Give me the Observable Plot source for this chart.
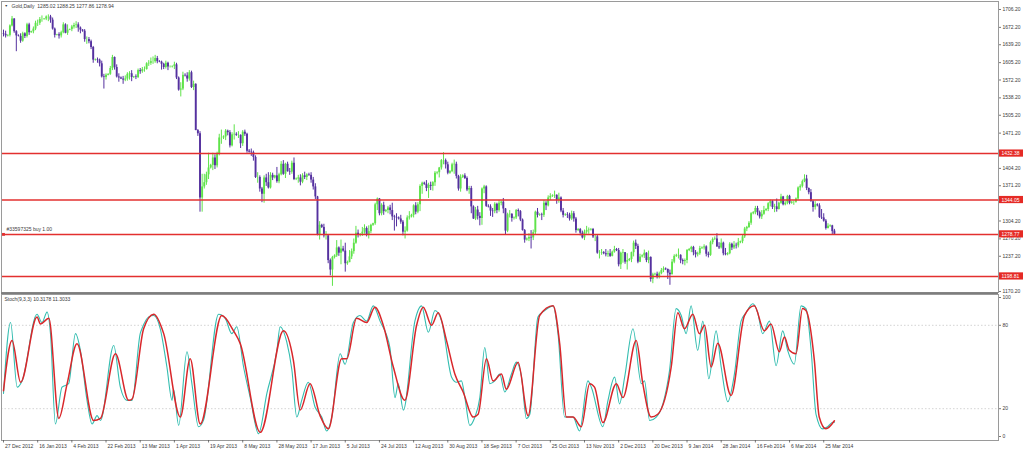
<!DOCTYPE html>
<html><head><meta charset="utf-8">
<script src="https://cdn.jsdelivr.net/npm/d3@7"></script>
<script src="https://cdn.jsdelivr.net/npm/@observablehq/plot@0.6"></script>
<style>
body{margin:0;background:#fff;}
#wrap{position:relative;width:1024px;height:451px;overflow:hidden;background:#fff;}
#wrap svg{position:absolute;left:0;overflow:visible;}
</style>
</head><body><div id="wrap"></div>
<script>
// ---------- DATA ----------
const header = "Gold,Daily  1285.02 1288.25 1277.86 1278.94";
const stochHeader = "Stoch(9,3,3) 10.3178 11.3033";
const orderText = "#33597325 buy 1.00";

const opens = [1660,1659,1656,1657,1675,1688,1664,1656,1655,1646,1660,1655,1677,1662,1664,1669,1680,1680,1687,1687,1688,1692,1692,1686,1669,1657,1658,1656,1662,1677,1661,1667,1668,1673,1676,1677,1671,1667,1665,1649,1649,1645,1634,1610,1611,1610,1603,1578,1577,1581,1583,1594,1615,1596,1578,1576,1574,1572,1574,1583,1584,1577,1578,1577,1590,1588,1592,1592,1603,1604,1607,1607,1613,1607,1606,1602,1596,1604,1597,1597,1598,1601,1576,1553,1555,1581,1580,1574,1586,1558,1564,1476,1470,1348,1369,1377,1392,1405,1410,1424,1409,1431,1462,1462,1464,1475,1472,1447,1468,1469,1467,1467,1451,1473,1469,1437,1435,1434,1425,1387,1387,1365,1355,1386,1377,1367,1391,1386,1390,1379,1392,1412,1393,1412,1398,1397,1414,1383,1384,1386,1378,1390,1387,1392,1391,1382,1369,1350,1278,1296,1292,1276,1276,1229,1211,1235,1238,1253,1243,1251,1247,1223,1225,1236,1246,1262,1281,1277,1279,1283,1290,1277,1284,1296,1299,1335,1346,1318,1334,1322,1324,1329,1324,1312,1311,1310,1308,1302,1283,1285,1310,1312,1315,1333,1321,1335,1370,1376,1374,1366,1372,1370,1377,1395,1396,1405,1419,1419,1411,1395,1398,1411,1412,1389,1365,1387,1390,1385,1363,1366,1331,1308,1325,1313,1309,1365,1369,1332,1331,1323,1322,1336,1324,1338,1340,1327,1285,1316,1317,1309,1310,1324,1322,1306,1286,1268,1270,1273,1272,1282,1321,1315,1316,1315,1338,1333,1348,1351,1352,1353,1344,1348,1323,1315,1316,1315,1308,1318,1308,1286,1288,1281,1272,1283,1286,1287,1288,1274,1274,1243,1243,1244,1242,1240,1242,1237,1245,1250,1248,1221,1243,1244,1226,1229,1231,1244,1262,1256,1226,1236,1238,1243,1229,1235,1193,1202,1203,1197,1204,1210,1213,1212,1205,1202,1226,1237,1239,1239,1229,1227,1229,1248,1250,1254,1244,1240,1242,1252,1253,1255,1241,1239,1263,1269,1270,1255,1253,1262,1242,1240,1242,1260,1253,1258,1257,1263,1265,1274,1289,1292,1300,1318,1320,1328,1320,1312,1317,1324,1326,1337,1341,1330,1331,1326,1338,1350,1335,1338,1351,1338,1340,1340,1346,1367,1370,1379,1384,1366,1358,1341,1330,1335,1333,1311,1310,1304,1290,1294,1295,1285.02];
const highs = [1667,1665,1658,1677,1693,1689,1666,1658,1660,1663,1662,1680,1680,1665,1673,1684,1686,1691,1694,1689,1694,1696,1695,1690,1671,1659,1662,1665,1681,1679,1677,1669,1676,1680,1683,1681,1673,1668,1668,1654,1653,1648,1636,1612,1614,1612,1608,1583,1584,1584,1598,1619,1616,1601,1584,1578,1579,1580,1586,1588,1590,1579,1582,1593,1594,1596,1597,1605,1609,1614,1616,1619,1617,1609,1608,1604,1608,1606,1599,1599,1606,1604,1578,1567,1587,1584,1586,1590,1589,1570,1565,1478,1474,1393,1393,1397,1433,1412,1433,1430,1435,1469,1477,1466,1478,1477,1476,1472,1487,1472,1474,1468,1476,1477,1471,1440,1441,1437,1428,1396,1390,1368,1390,1393,1396,1396,1395,1391,1406,1395,1417,1419,1414,1416,1404,1418,1424,1386,1391,1392,1394,1397,1394,1395,1396,1387,1375,1351,1303,1298,1298,1284,1278,1232,1237,1240,1267,1255,1268,1256,1262,1228,1248,1251,1270,1294,1287,1280,1292,1297,1293,1295,1298,1300,1338,1348,1347,1337,1340,1326,1332,1334,1338,1315,1318,1312,1315,1305,1293,1314,1322,1317,1335,1339,1339,1373,1378,1378,1381,1376,1378,1379,1398,1398,1406,1421,1434,1422,1416,1400,1414,1420,1416,1391,1392,1392,1394,1388,1370,1370,1333,1330,1332,1320,1367,1372,1371,1335,1335,1328,1339,1338,1343,1342,1347,1328,1319,1324,1318,1312,1326,1327,1324,1308,1288,1272,1280,1286,1287,1323,1328,1318,1319,1343,1341,1352,1356,1354,1361,1354,1357,1350,1328,1318,1320,1319,1323,1322,1311,1290,1290,1285,1287,1294,1291,1290,1290,1278,1277,1248,1250,1246,1250,1247,1250,1247,1256,1252,1252,1245,1250,1244,1242,1233,1245,1266,1268,1260,1241,1240,1249,1244,1247,1236,1205,1205,1207,1207,1214,1217,1215,1213,1211,1231,1240,1241,1251,1240,1232,1232,1250,1252,1256,1256,1248,1245,1256,1255,1259,1257,1245,1266,1272,1274,1280,1263,1270,1264,1252,1244,1263,1262,1265,1262,1271,1266,1277,1292,1294,1303,1320,1322,1332,1332,1323,1324,1332,1328,1339,1344,1343,1336,1346,1340,1355,1351,1341,1353,1353,1341,1342,1348,1369,1373,1382,1392,1391,1367,1364,1343,1341,1337,1337,1326,1318,1307,1299,1297,1296,1288.25];
const lows = [1654,1652,1654,1654,1673,1661,1626,1654,1642,1644,1651,1652,1657,1661,1660,1666,1674,1676,1682,1686,1685,1683,1680,1667,1652,1656,1650,1652,1660,1660,1657,1666,1664,1669,1670,1663,1660,1663,1644,1640,1641,1630,1604,1608,1604,1597,1576,1555,1572,1580,1581,1590,1591,1576,1568,1573,1564,1569,1570,1572,1569,1575,1573,1575,1583,1585,1587,1591,1598,1600,1602,1604,1603,1605,1591,1592,1593,1590,1595,1595,1592,1573,1551,1540,1552,1578,1568,1570,1556,1552,1476,1465,1321,1321,1365,1372,1383,1403,1400,1402,1405,1428,1450,1459,1457,1466,1443,1445,1458,1465,1461,1442,1446,1465,1433,1433,1427,1418,1385,1376,1359,1339,1338,1370,1365,1365,1381,1384,1376,1375,1390,1391,1385,1397,1391,1393,1381,1381,1376,1371,1375,1383,1381,1389,1376,1363,1345,1276,1268,1290,1272,1268,1223,1200,1180,1232,1235,1237,1221,1245,1207,1220,1225,1231,1241,1260,1272,1274,1275,1279,1274,1270,1280,1294,1296,1324,1314,1314,1315,1320,1318,1316,1305,1285,1293,1306,1298,1276,1270,1283,1306,1310,1310,1316,1318,1322,1355,1372,1360,1347,1362,1361,1370,1392,1386,1401,1411,1403,1392,1393,1396,1393,1384,1361,1359,1385,1383,1360,1355,1318,1307,1305,1306,1295,1296,1356,1330,1329,1313,1311,1318,1318,1321,1333,1318,1277,1282,1310,1302,1306,1307,1312,1303,1285,1262,1266,1265,1251,1267,1278,1310,1313,1305,1311,1324,1331,1343,1349,1347,1336,1338,1320,1310,1313,1309,1304,1305,1302,1281,1284,1276,1270,1267,1279,1279,1285,1271,1265,1241,1232,1239,1240,1236,1235,1235,1236,1243,1246,1217,1212,1224,1222,1211,1227,1225,1236,1250,1223,1225,1234,1233,1225,1223,1188,1185,1200,1194,1194,1202,1206,1210,1193,1182,1202,1223,1235,1232,1223,1221,1219,1223,1246,1244,1238,1234,1236,1239,1250,1249,1236,1234,1237,1259,1267,1254,1250,1251,1238,1238,1238,1240,1248,1250,1251,1253,1261,1261,1271,1284,1290,1296,1316,1316,1314,1308,1307,1315,1322,1322,1331,1326,1320,1321,1325,1336,1333,1333,1335,1335,1336,1334,1338,1344,1361,1367,1377,1362,1354,1340,1321,1325,1331,1309,1307,1302,1287,1289,1292,1277,1277.86];
const closes = [1659,1656,1657,1675,1688,1664,1656,1655,1646,1660,1655,1677,1662,1664,1669,1680,1680,1687,1687,1688,1692,1692,1686,1669,1657,1658,1656,1662,1677,1661,1667,1668,1673,1676,1677,1671,1667,1665,1649,1649,1645,1634,1610,1611,1610,1603,1578,1577,1581,1583,1594,1615,1596,1578,1576,1574,1572,1574,1583,1584,1577,1578,1577,1590,1588,1592,1592,1603,1604,1607,1607,1613,1607,1606,1602,1596,1604,1597,1597,1598,1601,1576,1553,1555,1581,1580,1574,1586,1558,1564,1476,1470,1348,1369,1377,1392,1405,1410,1424,1409,1431,1462,1462,1464,1475,1472,1447,1468,1469,1467,1467,1451,1473,1469,1437,1435,1434,1425,1387,1387,1365,1355,1386,1377,1367,1391,1386,1390,1379,1392,1412,1393,1412,1398,1397,1414,1383,1384,1386,1378,1390,1387,1392,1391,1382,1369,1350,1278,1296,1292,1276,1276,1229,1211,1235,1238,1253,1243,1251,1247,1223,1225,1236,1246,1262,1281,1277,1279,1283,1290,1277,1284,1296,1299,1335,1346,1318,1334,1322,1324,1329,1324,1312,1311,1310,1308,1302,1283,1285,1310,1312,1315,1333,1321,1335,1370,1376,1374,1366,1372,1370,1377,1395,1396,1405,1419,1419,1411,1395,1398,1411,1412,1389,1365,1387,1390,1385,1363,1366,1331,1308,1325,1313,1309,1365,1369,1332,1331,1323,1322,1336,1324,1338,1340,1327,1285,1316,1317,1309,1310,1324,1322,1306,1286,1268,1270,1273,1272,1282,1321,1315,1316,1315,1338,1333,1348,1351,1352,1353,1344,1348,1323,1315,1316,1315,1308,1318,1308,1286,1288,1281,1272,1283,1286,1287,1288,1274,1274,1243,1243,1244,1242,1240,1242,1237,1245,1250,1248,1221,1243,1244,1226,1229,1231,1244,1262,1256,1226,1236,1238,1243,1229,1235,1193,1202,1203,1197,1204,1210,1213,1212,1205,1202,1226,1237,1239,1239,1229,1227,1229,1248,1250,1254,1244,1240,1242,1252,1253,1255,1241,1239,1263,1269,1270,1255,1253,1262,1242,1240,1242,1260,1253,1258,1257,1263,1265,1274,1289,1292,1300,1318,1320,1328,1320,1312,1317,1324,1326,1337,1341,1330,1331,1326,1338,1350,1335,1338,1351,1338,1340,1340,1346,1367,1370,1379,1384,1366,1358,1341,1330,1335,1333,1311,1310,1304,1290,1294,1295,1284,1278.94];

// horizontal price levels (red lines) and right-axis tick labels
const levels = [1432.38, 1344.05, 1278.77, 1198.81];
const orderLevel = 1278.77;
// right-axis ticks visible beside the red level boxes (1438.20, 1337.20, 1203.20 sit under the boxes)
const priceTicks = [1706.20,1672.20,1639.20,1605.20,1572.20,1538.20,1505.20,1471.20,1404.20,1371.20,1304.20,1270.20,1237.20,1170.20];

// stochastic main line (%K) and signal (%D): bar position, value
const kBar = [0,3.3,6.4,8.7,15.7,18,20.4,22,24.3,27.4,30.5,33.7,36,39.1,41.5,43.8,45.4,51.6,54.7,57.8,60.2,64,64.8,68,70.3,73.4,76.5,78.9,79.6,82,85.9,88.2,91.3,93.7,100.7,103.8,106.9,109.2,112.4,115.5,119.4,123.3,128,129.5,132.6,135,137.3,139.6,142.7,145.9,149,151.3,153.7,157.6,159.9,163.8,166.9,170,173.1,176.3,180.9,183.3,184.8,187.2,192.6,195.7,198.9,202,205.1,209.8,212.1,214.4,216,218.3,220.7,223,225.3,227.7,230,232.3,234.7,237.8,240.1,242.5,244.8,246.4,250.2,253.4,257.3,259.6,262.7,266.6,269.7,273.6,275.2,280.6,283,286.1,288.4,290.8,294.7,298.6,300.1,302.5,305.6,308.7,311.8,314.9,317.3,319.6,321.9,325,327.4,330.2,333.6,336,339.1,342.2,345.3,347.6,350.8,353.1,355.4,358.6,361.7,364.8,367.1,370.2,373.4,375.7,378.1,380.4,383.5,385.8,388.2,389];
const kVal = [31,82,35.5,40,88,82,89.5,74,9,35.5,38,74,62,26,9,15,11.5,65.5,35.5,26,26,74,77.5,86,87,77.5,50,26,34,8,61,38,7,12,88,85,74,79,50,28,2,31,62,79,68,48,14,26,39,21,14,4,14,59.5,52,82,87,83,94,83,64,28,38,19,83,94,75,90.6,83,42.7,39,40,28,8,14,28,64,38,40,45,32,45,53.5,43,13,16,86,90.6,94,74,14,14,4,40,35.5,7,26,42.7,23.5,42.7,77.5,38,40,11.5,14,23.5,47.5,92,87,74,94,62,83,41.5,76,50,25,45,83,89,95.5,89,74,83,51,76,62,52,94,92,62,16,5.5,7,10.3,10.32];
const dBar = [0,4,8,15.7,17.3,21.2,25.9,29.8,34.4,42.2,45.4,52.4,58.6,60.2,65.6,70.3,75,82.8,87.4,92.1,102.2,107.7,110.8,120.2,131.1,135.7,138.9,143.5,148.2,152.1,158.3,160.7,165.3,170,173.9,177.8,182.5,187.9,193.4,196.5,200.4,203.5,207.4,211.3,215.2,219.9,222.2,226.1,229.2,233.1,235.4,240.9,245.6,251,257.3,260.4,263.5,266.6,270.5,274.4,276.7,280.6,286.9,290,296.2,299.3,303.2,306.3,312.6,315.7,318.8,322.7,325.8,328.2,331.3,334.4,340.6,346.9,351.5,356.2,359.3,363.2,365.6,367.9,371,374.1,375.7,379.6,381.9,385,389];
const dVal = [33,69,39,86,81,85,13,38,66.7,11.5,13,59.5,26,27,77.5,88,74,14,56,9,87,76,67,3,76,55,19,38,15,5.5,56,56,85,82,93,80,50,26,80,93,80,89,69,45,32,14,16,56,40,45,34,53.5,15,87,94,66.7,14,14,7,38,35.5,10,38,28,69,38,14,16,50,89,77.5,88,74,80,50,67,29.5,87,94,76,81,61,71.5,62,59.5,92,90.6,55,14,5.5,11.3];
const stochLevels = [80, 20];
const stochTicks = [100, 80, 20, 0];

// date labels along the bottom (one every 16 bars)
const dateLabels = ["27 Dec 2012","16 Jan 2013","4 Feb 2013","22 Feb 2013","13 Mar 2013","1 Apr 2013","19 Apr 2013","8 May 2013","28 May 2013","17 Jun 2013","5 Jul 2013","24 Jul 2013","12 Aug 2013","30 Aug 2013","18 Sep 2013","7 Oct 2013","25 Oct 2013","13 Nov 2013","2 Dec 2013","20 Dec 2013","9 Jan 2014","28 Jan 2014","16 Feb 2014","6 Mar 2014","25 Mar 2014"];
const barsPerLabel = 16;

// ---------- checks ----------
const lens = [opens.length, highs.length, lows.length, closes.length];
if (new Set(lens).size > 1) throw new Error("OHLC length mismatch " + lens.join(","));
if (kBar.length !== kVal.length) throw new Error("K mismatch " + kBar.length + " " + kVal.length);
if (dBar.length !== dVal.length) throw new Error("D mismatch " + dBar.length + " " + dVal.length);

// ---------- LAYOUT ----------
const W = 1024;
const PX = 2.136;          // pixels per bar
const X0 = 3;              // pixel of first bar
const plotL = 1, plotR = 998;
const xDom = [(plotL - X0) / PX, (plotR - X0) / PX];
const px2bar = p => (p - X0) / PX;
const PPU = 1.9007;        // price units per pixel (main)
const priceAt = y => 1723.3 - PPU * y;
const mainH = 293;
const yDom = [priceAt(292), priceAt(1)];
const font = "Liberation Sans, Arial, sans-serif";
const bull = "#5fe34a", bear = "#55319f", red = "#e3302f", txt = "#3a3a3a";

const bars = closes.map((c, i) => ({i, o: opens[i], h: highs[i], l: lows[i], c}));
const up = bars.filter(d => d.c >= d.o), dn = bars.filter(d => d.c < d.o);

const main = Plot.plot({
  width: W, height: mainH,
  marginLeft: plotL, marginRight: W - plotR, marginTop: 1, marginBottom: 1,
  style: {fontFamily: font, background: "transparent"},
  x: {domain: xDom, axis: null},
  y: {domain: yDom, axis: null},
  marks: [
    Plot.ruleX(up, {x: "i", y1: "l", y2: "h", stroke: bull, strokeWidth: 1}),
    Plot.ruleX(dn, {x: "i", y1: "l", y2: "h", stroke: bear, strokeWidth: 1}),
    Plot.ruleX(up, {x: "i", y1: "o", y2: "c", stroke: bull, strokeWidth: 1.9}),
    Plot.ruleX(dn, {x: "i", y1: "o", y2: "c", stroke: bear, strokeWidth: 1.9}),
    Plot.ruleY(levels, {y: d => d, stroke: red, strokeWidth: 1.5}),
    Plot.dot([orderLevel], {x: () => px2bar(3), y: d => d, symbol: "square", r: 1.6, fill: red}),
    Plot.text([orderText], {x: () => px2bar(6), y: () => orderLevel, dy: -4.5, textAnchor: "start", fontSize: 5, fill: txt}),
    Plot.text([header], {frameAnchor: "top-left", dx: 10, dy: 2.5, textAnchor: "start", lineAnchor: "top", fontSize: 5, fill: txt}),
    Plot.text(["▼"], {frameAnchor: "top-left", dx: 3, dy: 3, textAnchor: "start", lineAnchor: "top", fontSize: 3.5, fill: txt}),
    // right price axis
    Plot.ruleY(priceTicks, {y: d => d, x1: () => px2bar(plotR), x2: () => px2bar(plotR + 3), stroke: "#555", strokeWidth: 0.8}),
    Plot.text(priceTicks, {x: () => px2bar(plotR + 4), y: d => d, text: d => d.toFixed(2), textAnchor: "start", fontSize: 5, fill: txt}),
    Plot.rect(levels, {x1: () => px2bar(plotR + 1), x2: () => px2bar(1023), y1: d => d - 3.6 * PPU, y2: d => d + 3.6 * PPU, fill: "#e52a25"}),
    Plot.text(levels, {x: () => px2bar(plotR + 3), y: d => d, text: d => d.toFixed(2), textAnchor: "start", fontSize: 5, fill: "#fff"}),
    Plot.frame({stroke: "#9a9a9a", strokeWidth: 1}),
    Plot.ruleY([yDom[0]], {stroke: "#7d7d7d", strokeWidth: 2.5, dy: 1})
  ]
});
main.style.top = "0px";

// ---------- STOCHASTIC PANEL ----------
const sTop = 293, sH = 158, sMT = 1, sMB = 11;
const sPPU = 1.39;
const sValAt = yAbs => (436 - yAbs) / sPPU;
const sDom = [sValAt(sTop + sH - sMB), sValAt(sTop + sMT)];
const kPts = kBar.map((b, i) => ({b, v: kVal[i]}));
const dPts = dBar.map((b, i) => ({b, v: dVal[i]}));
const labels = dateLabels.map((t, k) => ({t, b: k * barsPerLabel}));

const stoch = Plot.plot({
  width: W, height: sH,
  marginLeft: plotL, marginRight: W - plotR, marginTop: sMT, marginBottom: sMB,
  style: {fontFamily: font, background: "transparent"},
  x: {domain: xDom, axis: null},
  y: {domain: sDom, axis: null},
  marks: [
    Plot.ruleY(stochLevels, {y: d => d, stroke: "#c8c8c8", strokeWidth: 0.8, strokeDasharray: "1.5,2"}),
    Plot.line(kPts, {x: "b", y: "v", stroke: "#33bdb0", strokeWidth: 1.1, curve: "monotone-x"}),
    Plot.line(dPts, {x: "b", y: "v", stroke: "#d9272b", strokeWidth: 1.5, curve: "monotone-x"}),
    Plot.text([stochHeader], {frameAnchor: "top-left", dx: 3, dy: 3, textAnchor: "start", lineAnchor: "top", fontSize: 5, fill: txt}),
    Plot.ruleY(stochTicks, {y: d => d, x1: () => px2bar(plotR), x2: () => px2bar(plotR + 3), stroke: "#555", strokeWidth: 0.8}),
    Plot.text(stochTicks, {x: () => px2bar(plotR + 4), y: d => d, text: d => String(d), textAnchor: "start", fontSize: 5, fill: txt}),
    Plot.frame({stroke: "#9a9a9a", strokeWidth: 1}),
    Plot.ruleX(labels, {x: "b", y1: () => sDom[0], y2: () => sDom[0] - 2.5 / sPPU, stroke: "#555", strokeWidth: 0.8}),
    Plot.text(labels, {x: "b", y: () => sDom[0], text: "t", dx: 1.5, dy: 6, textAnchor: "start", fontSize: 5, fill: txt})
  ]
});
stoch.style.top = sTop + "px";

const wrap = document.getElementById("wrap");
wrap.appendChild(main);
wrap.appendChild(stoch);
</script>
</body></html>
